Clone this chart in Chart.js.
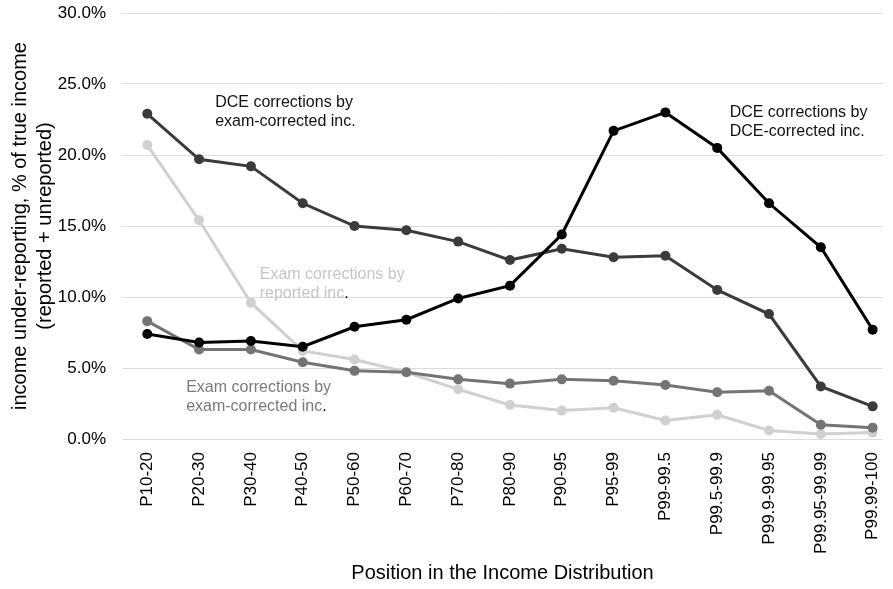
<!DOCTYPE html>
<html>
<head>
<meta charset="utf-8">
<script src="https://cdn.jsdelivr.net/npm/chart.js@4"></script>
<style>
  html, body { margin: 0; padding: 0; background: #fff; }
  #wrap { width: 893px; height: 589px; }
</style>
</head>
<body>
<div id="wrap"><canvas id="chart"></canvas></div>
<script>
const categories = ["P10-20", "P20-30", "P30-40", "P40-50", "P50-60", "P60-70", "P70-80", "P80-90",
  "P90-95", "P95-99", "P99-99.5", "P99.5-99.9", "P99.9-99.95", "P99.95-99.99", "P99.99-100"];

// % of true income
const dceByDce = [7.4, 6.8, 6.9, 6.5, 7.9, 8.4, 9.9, 10.8, 14.4, 21.7, 23.0, 20.5, 16.6, 13.5, 7.7];
const dceByExam = [22.9, 19.7, 19.2, 16.6, 15.0, 14.7, 13.9, 12.6, 13.4, 12.8, 12.9, 10.5, 8.8, 3.7, 2.3];
const examByExam = [8.3, 6.3, 6.3, 5.4, 4.8, 4.7, 4.2, 3.9, 4.2, 4.1, 3.8, 3.3, 3.4, 1.0, 0.8];
const examByReported = [20.7, 15.4, 9.6, 6.2, 5.6, 4.7, 3.5, 2.4, 2.0, 2.2, 1.3, 1.7, 0.6, 0.35, 0.45];

const yTicks = [0, 5, 10, 15, 20, 25, 30];

const FONT = "'Liberation Sans', Arial, sans-serif";

const pts = arr => arr.map((v, i) => ({ x: i, y: v }));

function series(label, data, color) {
  return {
    label: label,
    data: pts(data),
    borderColor: color,
    backgroundColor: color,
    borderWidth: 3,
    pointRadius: 5,
    pointHoverRadius: 5,
    pointBorderWidth: 0,
    tension: 0,
  };
}

// in-plot labels, anchored in data units
const notes = [
  { x: 1.31, y: 23.66, lines: ["DCE corrections by", "exam-corrected inc."], color: "#111", dot: false },
  { x: 11.24, y: 22.96, lines: ["DCE corrections by", "DCE-corrected inc."], color: "#111", dot: false },
  { x: 2.17, y: 11.55, lines: ["Exam corrections by", "reported inc"], color: "#c4c4c4", dot: true },
  { x: 0.75, y: 3.59, lines: ["Exam corrections by", "exam-corrected inc"], color: "#7a7a7a", dot: true },
];

const notePlugin = {
  id: "notes",
  afterDatasetsDraw(chart) {
    const { ctx, scales } = chart;
    ctx.save();
    ctx.font = "16px " + FONT;
    ctx.textAlign = "left";
    ctx.textBaseline = "middle";
    notes.forEach(n => {
      const x = scales.x.getPixelForValue(n.x);
      let y = scales.y.getPixelForValue(n.y);
      n.lines.forEach((t, k) => {
        ctx.fillStyle = n.color;
        ctx.fillText(t, x, y);
        if (n.dot && k === n.lines.length - 1) {
          ctx.fillStyle = "#000";
          ctx.fillText(".", x + ctx.measureText(t).width, y);
        }
        y += 19;
      });
    });
    ctx.restore();
  },
};

new Chart(document.getElementById("chart"), {
  type: "line",
  data: {
    datasets: [
      series("DCE corrections by DCE-corrected inc.", dceByDce, "#000000"),
      series("DCE corrections by exam-corrected inc.", dceByExam, "#3b3b3b"),
      series("Exam corrections by exam-corrected inc.", examByExam, "#747474"),
      series("Exam corrections by reported inc.", examByReported, "#d0d0d0"),
    ],
  },
  options: {
    responsive: true,
    maintainAspectRatio: false,
    animation: false,
    layout: { padding: { top: 13, right: 10, left: 0, bottom: 0 } },
    plugins: {
      legend: { display: false },
      tooltip: { enabled: false },
    },
    scales: {
      x: {
        type: "linear",
        min: -0.488,
        max: 14.2,
        afterBuildTicks: s => { s.ticks = categories.map((c, i) => ({ value: i })); },
        afterFit: s => { s.height = 150; s.paddingLeft = 0; s.paddingRight = 0; },
        grid: { display: false, drawTicks: false },
        border: { display: false },
        ticks: {
          autoSkip: false,
          minRotation: 90,
          maxRotation: 90,
          padding: 13,
          color: "#000",
          font: { family: FONT, size: 17 },
          callback: v => categories[v] ?? "",
        },
        title: {
          display: true,
          text: "Position in the Income Distribution",
          color: "#000",
          font: { family: FONT, size: 20, lineHeight: 1.25 },
          padding: { top: 0, bottom: 3.5 },
        },
      },
      y: {
        min: 0,
        max: 30,
        afterBuildTicks: s => { s.ticks = yTicks.map(v => ({ value: v })); },
        afterFit: s => { s.width = 122; s.paddingTop = 0; s.paddingBottom = 0; },
        grid: { color: "#dcdcdc", lineWidth: 1, drawTicks: false },
        border: { display: false },
        ticks: {
          padding: 16,
          color: "#000",
          font: { family: FONT, size: 17 },
          callback: v => v.toFixed(1) + "%",
        },
        title: {
          display: true,
          text: ["income under-reporting, % of true income", "(reported + unreported)"],
          color: "#000",
          font: { family: FONT, size: 20, lineHeight: 1.25 },
          padding: { top: 7.5, bottom: 0 },
        },
      },
    },
  },
  plugins: [notePlugin],
});
</script>
</body>
</html>
